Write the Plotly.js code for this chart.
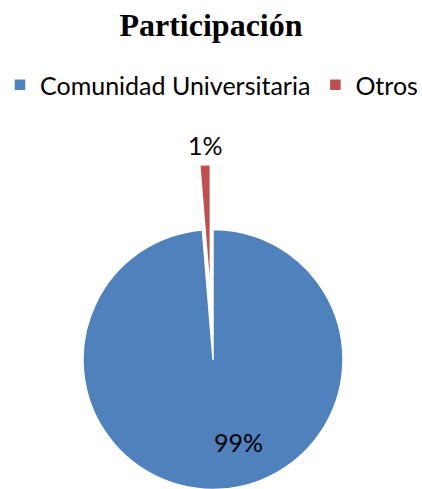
<!DOCTYPE html>
<html>
<head>
<meta charset="utf-8">
<script src="https://cdn.plot.ly/plotly-3.0.1.min.js"></script>
<style>
html,body{margin:0;padding:0;overflow:hidden;background:#fff;}
#chart{width:422px;height:700px;}
</style>
</head>
<body>
<div id="chart"></div>
<script>
var categories = ["Comunidad Universitaria", "Otros"];
var values = [98.7, 1.3];
var colors = ["#4F81BD", "#C0504D"];
var pulls = [0, 0.5];

var H = 700;
var W = 422;
var total = values.reduce(function (a, b) { return a + b; }, 0);
var pctText = values.map(function (v) { return Math.round(v / total * 100) + "%"; });
// label anchor points (pixels from top-left) for each slice's percentage label
var labelPx = [[238, 442], [205, 145]];

var labelFont = {family: "Lato, 'Open Sans', sans-serif", size: 25, color: "#000000"};

var trace = {
  type: "pie",
  labels: categories,
  values: values,
  sort: false,
  direction: "clockwise",
  rotation: 0,
  pull: pulls,
  marker: {colors: colors, line: {color: "#ffffff", width: 1.5}},
  textinfo: "none",
  hoverinfo: "none",
  domain: {x: [0.0427, 0.9668], y: [0, 0.9729]}
};

var annotations = pctText.map(function (t, i) {
  return {
    text: t, showarrow: false,
    xref: "paper", yref: "paper",
    x: labelPx[i][0] / W, y: 1 - labelPx[i][1] / H,
    xanchor: "center", yanchor: "middle",
    font: labelFont
  };
});

var layout = {
  width: W,
  height: H,
  margin: {l: 0, r: 0, t: 0, b: 0},
  paper_bgcolor: "#ffffff",
  title: {
    text: "<b>Participación</b>",
    font: {family: "'Liberation Serif', 'Times New Roman', serif", size: 32, color: "#000000"},
    x: 0.5, xanchor: "center",
    y: 1 - 25 / H, yanchor: "middle"
  },
  showlegend: true,
  legend: {
    orientation: "h",
    x: 1 / W, xanchor: "left",
    y: 1 - 85 / H, yanchor: "middle",
    font: labelFont,
    traceorder: "normal"
  },
  annotations: annotations
};

Plotly.newPlot("chart", [trace], layout, {staticPlot: true});
</script>
</body>
</html>
